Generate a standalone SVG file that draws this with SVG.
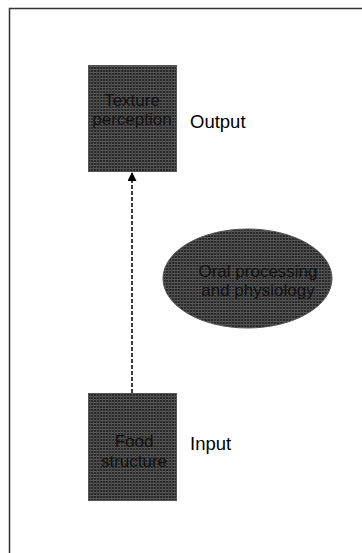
<svg xmlns="http://www.w3.org/2000/svg" width="362" height="553" viewBox="0 0 362 553">
<style>
.lbl{font-family:"Liberation Sans",Arial,sans-serif;fill:#111;text-anchor:middle}
.side{font-family:"Liberation Sans",Arial,sans-serif;fill:#000;font-size:18.5px}
.shape{fill:url(#grid);stroke:#555;stroke-width:1}
</style>
<defs>
<pattern id="grid" width="3" height="3" patternUnits="userSpaceOnUse">
<rect width="3" height="3" fill="#2a2a2a"/>
<rect width="3" height="1" fill="#5a5a5a"/>
<rect width="1" height="3" fill="#4a4a4a"/>
</pattern>
<marker id="arr" viewBox="0 0 10 10" refX="10" refY="5" markerWidth="6" markerHeight="6" orient="auto">
<path d="M0,0 L10,5 L0,10 z" fill="#000"/>
</marker>
</defs>
<g id="frame">
<path d="M9.5,553 L9.5,8.5 L362,8.5" fill="none" stroke="#333" stroke-width="1.5"/>
</g>
<g id="connectors">
<line x1="132" y1="393" x2="132" y2="172" stroke="#000" stroke-width="1.5" stroke-dasharray="4,2" marker-end="url(#arr)"/>
</g>
<g id="texture">
<rect class="shape" x="88.5" y="65.5" width="88" height="106"/>
<text class="lbl" font-size="17" x="132" y="106">Texture</text>
<text class="lbl" font-size="17" x="132" y="125">perception</text>
</g>
<g id="output">
<text class="side" x="190" y="128">Output</text>
</g>
<g id="oral">
<ellipse class="shape" cx="247.5" cy="278.5" rx="84.5" ry="49.5"/>
<text class="lbl" font-size="17" x="258" y="277">Oral processing</text>
<text class="lbl" font-size="17" x="258" y="296">and physiology</text>
</g>
<g id="food">
<rect class="shape" x="88.5" y="393.5" width="88" height="107"/>
<text class="lbl" font-size="17" x="134" y="447">Food</text>
<text class="lbl" font-size="17" x="134" y="467">structure</text>
</g>
<g id="input">
<text class="side" x="190" y="450">Input</text>
</g>
</svg>
